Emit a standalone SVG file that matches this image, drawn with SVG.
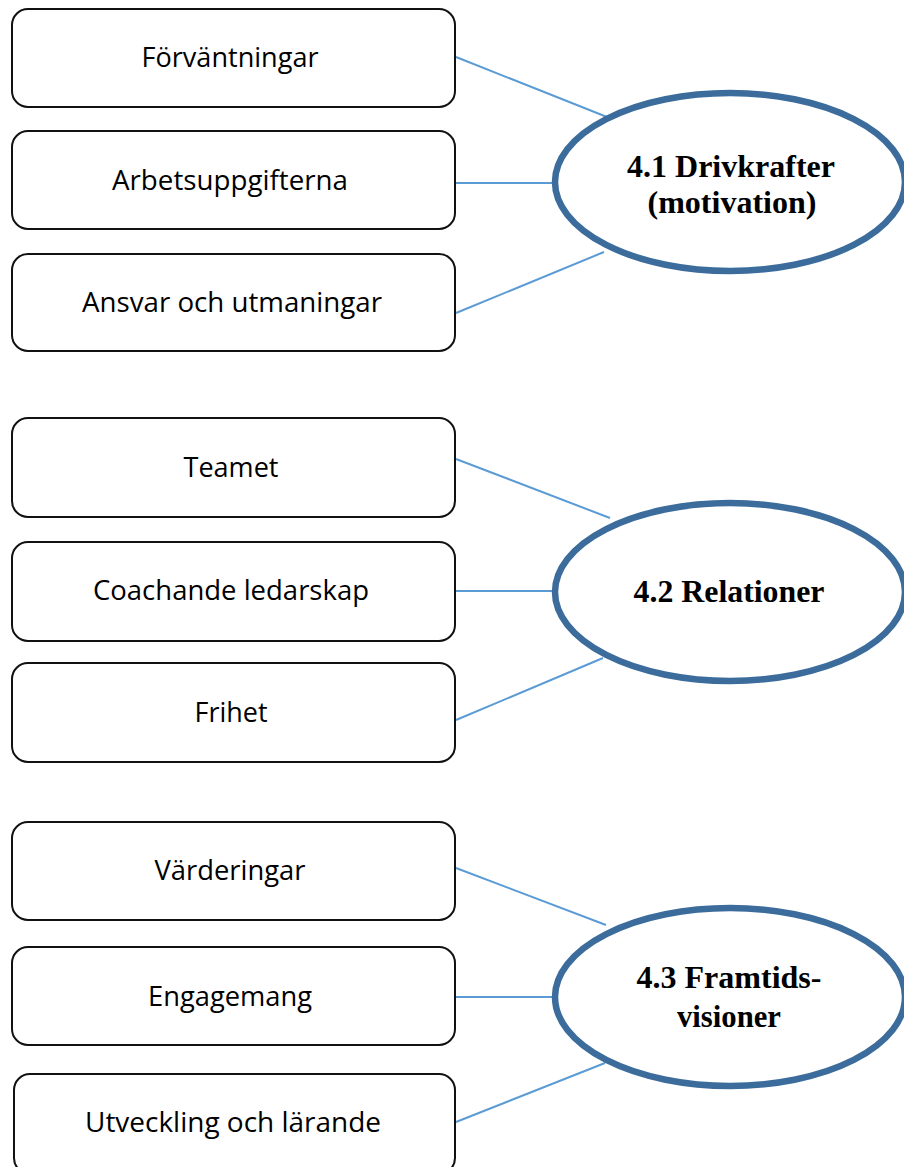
<svg xmlns="http://www.w3.org/2000/svg" width="904" height="1167" viewBox="0 0 904 1167">
<style>
.box{fill:#fff;stroke:#111;stroke-width:2}
.bt{font-family:"Open Sans","Liberation Sans",sans-serif;font-size:27px;fill:#000;text-anchor:middle}
.ell{fill:#fff;stroke:#3b6c9b;stroke-width:6.5}
.et{font-family:"Liberation Serif","Times New Roman",serif;font-weight:bold;font-size:31px;fill:#000;text-anchor:middle}
.con line{stroke:#5b9bd5;stroke-width:2}
</style>
<rect width="904" height="1167" fill="#fff"/>
<g id="connectors" class="con">
<line x1="456" y1="57" x2="607" y2="117"/>
<line x1="456" y1="183" x2="555" y2="183"/>
<line x1="456" y1="313" x2="604" y2="252"/>
<line x1="456" y1="459" x2="610" y2="518"/>
<line x1="456" y1="591" x2="555" y2="591"/>
<line x1="456" y1="720" x2="603" y2="658"/>
<line x1="456" y1="868" x2="606" y2="925"/>
<line x1="456" y1="997" x2="555" y2="997"/>
<line x1="456" y1="1122" x2="605" y2="1063"/>
</g>
<g id="n-forvantningar"><rect class="box" x="12" y="9" width="443" height="98" rx="16"/><text class="bt" x="230" y="67" textLength="177" lengthAdjust="spacingAndGlyphs">Förväntningar</text></g>
<g id="n-arbetsuppgifterna"><rect class="box" x="12" y="131" width="443" height="98" rx="16"/><text class="bt" x="230" y="190" textLength="236" lengthAdjust="spacingAndGlyphs">Arbetsuppgifterna</text></g>
<g id="n-ansvar"><rect class="box" x="12" y="254" width="443" height="97" rx="16"/><text class="bt" x="232" y="312" textLength="300" lengthAdjust="spacingAndGlyphs">Ansvar och utmaningar</text></g>
<g id="n-drivkrafter"><ellipse class="ell" cx="730" cy="182" rx="175" ry="89"/><text class="et" x="731" y="177" textLength="208" lengthAdjust="spacingAndGlyphs">4.1 Drivkrafter</text><text class="et" x="732" y="213" textLength="169" lengthAdjust="spacingAndGlyphs">(motivation)</text></g>
<g id="n-teamet"><rect class="box" x="12" y="418" width="443" height="99" rx="16"/><text class="bt" x="231" y="477" textLength="95" lengthAdjust="spacingAndGlyphs">Teamet</text></g>
<g id="n-coachande"><rect class="box" x="12" y="542" width="443" height="99" rx="16"/><text class="bt" x="231" y="600" textLength="276" lengthAdjust="spacingAndGlyphs">Coachande ledarskap</text></g>
<g id="n-frihet"><rect class="box" x="12" y="663" width="443" height="99" rx="16"/><text class="bt" x="231" y="722" textLength="73" lengthAdjust="spacingAndGlyphs">Frihet</text></g>
<g id="n-relationer"><ellipse class="ell" cx="730" cy="592" rx="175" ry="89"/><text class="et" x="729" y="602" textLength="191" lengthAdjust="spacingAndGlyphs">4.2 Relationer</text></g>
<g id="n-varderingar"><rect class="box" x="12" y="822" width="443" height="98" rx="16"/><text class="bt" x="230" y="880" textLength="151" lengthAdjust="spacingAndGlyphs">Värderingar</text></g>
<g id="n-engagemang"><rect class="box" x="12" y="947" width="443" height="98" rx="16"/><text class="bt" x="230" y="1006" textLength="164" lengthAdjust="spacingAndGlyphs">Engagemang</text></g>
<g id="n-utveckling"><rect class="box" x="14" y="1074" width="441" height="100" rx="16"/><text class="bt" x="233" y="1132" textLength="296" lengthAdjust="spacingAndGlyphs">Utveckling och lärande</text></g>
<g id="n-framtidsvisioner"><ellipse class="ell" cx="730" cy="997" rx="175" ry="89"/><text class="et" x="729" y="988" textLength="185" lengthAdjust="spacingAndGlyphs">4.3 Framtids-</text><text class="et" x="729" y="1027" textLength="104" lengthAdjust="spacingAndGlyphs">visioner</text></g>
</svg>
